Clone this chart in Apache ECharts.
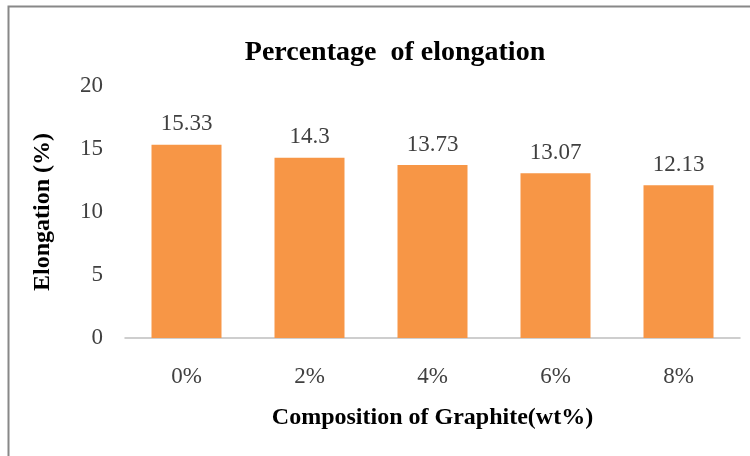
<!DOCTYPE html>
<html lang="en" style="height: 100%">
<head>
  <meta charset="utf-8">
</head>
<body style="height: 100%; margin: 0">
  <div id="container" style="height: 100%"></div>
  <script type="text/javascript" src="https://cdn.jsdelivr.net/npm/echarts@6/dist/echarts.min.js"></script>
  <script type="text/javascript">
    var categories = ['0%', '2%', '4%', '6%', '8%'];
    var elongation = [15.33, 14.3, 13.73, 13.07, 12.13];

    var dom = document.getElementById('container');
    var myChart = echarts.init(dom, null, { renderer: 'canvas' });
    var serif = '"Liberation Serif", "Times New Roman", serif';

    var option = {
      backgroundColor: '#fff',
      textStyle: { fontFamily: serif },
      title: {
        text: 'Percentage  of elongation',
        left: 390,
        textAlign: 'center',
        top: 34,
        textStyle: { fontFamily: serif, fontSize: 28, fontWeight: 'bold', color: '#000' }
      },
      graphic: [{
        type: 'rect',
        shape: { x: 8.5, y: 6.5, width: 800, height: 500 },
        style: { fill: 'none', stroke: '#888', lineWidth: 2 },
        silent: true
      }],
      grid: { left: 125, right: 10, top: 86, bottom: 118 },
      xAxis: {
        type: 'category',
        data: categories,
        name: 'Composition of Graphite(wt%)',
        nameLocation: 'middle',
        nameGap: 68,
        nameTextStyle: { fontFamily: serif, fontSize: 24, fontWeight: 'bold', color: '#000' },
        axisLine: { lineStyle: { color: '#bfbfbf', width: 1.5 } },
        axisTick: { show: false },
        axisLabel: { fontFamily: serif, fontSize: 23, color: '#404040', margin: 27 }
      },
      yAxis: {
        type: 'value',
        min: 0,
        max: 20,
        interval: 5,
        name: 'Elongation (%)',
        nameLocation: 'middle',
        nameGap: 70,
        nameTextStyle: { fontFamily: serif, fontSize: 24, fontWeight: 'bold', color: '#000' },
        axisLine: { show: false },
        axisTick: { show: false },
        splitLine: { show: false },
        axisLabel: { fontFamily: serif, fontSize: 23, color: '#404040', margin: 22 }
      },
      series: [{
        type: 'bar',
        data: elongation,
        barWidth: 70,
        itemStyle: { color: '#F79646' },
        label: {
          show: true,
          position: 'top',
          distance: 9,
          fontFamily: serif,
          fontSize: 23,
          color: '#404040'
        }
      }]
    };

    myChart.setOption(option);
    window.addEventListener('resize', myChart.resize);
  </script>
</body>
</html>
